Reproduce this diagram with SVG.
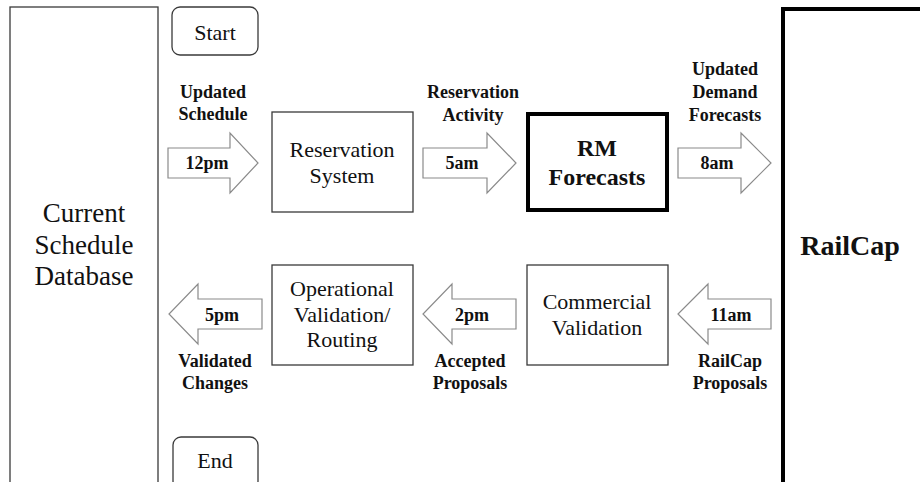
<svg xmlns="http://www.w3.org/2000/svg" width="920" height="482" viewBox="0 0 920 482">
  <style>
    .box { fill: #ffffff; stroke: #3a3a3a; stroke-width: 1.3; }
    .heavy { fill: #ffffff; stroke: #000000; stroke-width: 4; }
    .arrow { fill: #ffffff; stroke: #8a8a8a; stroke-width: 1.2; stroke-linejoin: miter; }
    .t { font-family: "Liberation Serif", "Times New Roman", serif; fill: #111111; text-anchor: middle; }
    .node { font-size: 22px; }
    .lbl { font-size: 18px; font-weight: bold; }
    .big { font-size: 24px; font-weight: bold; }
  </style>
  <rect x="0" y="0" width="920" height="482" fill="#ffffff"/>

  <g id="current-schedule-database">
    <rect class="box" x="10" y="7" width="148" height="490"/>
    <text class="t" x="84" y="222" font-size="27">Current</text>
    <text class="t" x="84" y="254" font-size="27">Schedule</text>
    <text class="t" x="84" y="285" font-size="27">Database</text>
  </g>

  <g id="start">
    <rect class="box" x="172" y="7" width="86" height="48" rx="8"/>
    <text class="t node" x="215" y="40" font-size="23">Start</text>
  </g>

  <g id="end">
    <rect class="box" x="173" y="437" width="85" height="52" rx="8"/>
    <text class="t node" x="215" y="468" font-size="23">End</text>
  </g>

  <g id="reservation-system">
    <rect class="box" x="272" y="112" width="141" height="100"/>
    <text class="t node" x="342" y="157">Reservation</text>
    <text class="t node" x="342" y="183">System</text>
  </g>

  <g id="rm-forecasts">
    <rect class="heavy" x="528" y="114" width="139" height="96"/>
    <text class="t big" x="597" y="156">RM</text>
    <text class="t big" x="597" y="185">Forecasts</text>
  </g>

  <g id="railcap">
    <rect class="heavy" x="783" y="9" width="160" height="490"/>
    <text class="t" x="850" y="255" font-size="28" font-weight="bold">RailCap</text>
  </g>

  <g id="operational-validation">
    <rect class="box" x="272" y="265" width="141" height="100"/>
    <text class="t node" x="342" y="296">Operational</text>
    <text class="t node" x="342" y="322">Validation/</text>
    <text class="t node" x="342" y="347">Routing</text>
  </g>

  <g id="commercial-validation">
    <rect class="box" x="527" y="265" width="141" height="100"/>
    <text class="t node" x="597" y="309">Commercial</text>
    <text class="t node" x="597" y="335">Validation</text>
  </g>

  <g id="connectors">
    <!-- top row: block arrows pointing right -->
    <g id="arrow-12pm">
      <polygon class="arrow" points="168,148 230,148 230,133 258,163 230,193 230,178 168,178"/>
      <text class="t lbl" x="207" y="169">12pm</text>
      <text class="t lbl" x="213" y="98">Updated</text>
      <text class="t lbl" x="213" y="120">Schedule</text>
    </g>
    <g id="arrow-5am">
      <polygon class="arrow" points="423,148 487,148 487,133 516,163 487,193 487,178 423,178"/>
      <text class="t lbl" x="462" y="169">5am</text>
      <text class="t lbl" x="473" y="98">Reservation</text>
      <text class="t lbl" x="473" y="121">Activity</text>
    </g>
    <g id="arrow-8am">
      <polygon class="arrow" points="678,148 741,148 741,133 771,163 741,193 741,178 678,178"/>
      <text class="t lbl" x="717" y="169">8am</text>
      <text class="t lbl" x="725" y="75">Updated</text>
      <text class="t lbl" x="725" y="98">Demand</text>
      <text class="t lbl" x="725" y="121">Forecasts</text>
    </g>
    <!-- bottom row: block arrows pointing left -->
    <g id="arrow-11am">
      <polygon class="arrow" points="771,299 708,299 708,284 678,314 708,344 708,329 771,329"/>
      <text class="t lbl" x="731" y="321">11am</text>
      <text class="t lbl" x="730" y="367">RailCap</text>
      <text class="t lbl" x="730" y="389">Proposals</text>
    </g>
    <g id="arrow-2pm">
      <polygon class="arrow" points="516,299 452,299 452,284 423,314 452,344 452,329 516,329"/>
      <text class="t lbl" x="472" y="321">2pm</text>
      <text class="t lbl" x="470" y="367">Accepted</text>
      <text class="t lbl" x="470" y="389">Proposals</text>
    </g>
    <g id="arrow-5pm">
      <polygon class="arrow" points="262,299 198,299 198,284 169,314 198,344 198,329 262,329"/>
      <text class="t lbl" x="222" y="321">5pm</text>
      <text class="t lbl" x="215" y="367">Validated</text>
      <text class="t lbl" x="215" y="389">Changes</text>
    </g>
  </g>
</svg>
